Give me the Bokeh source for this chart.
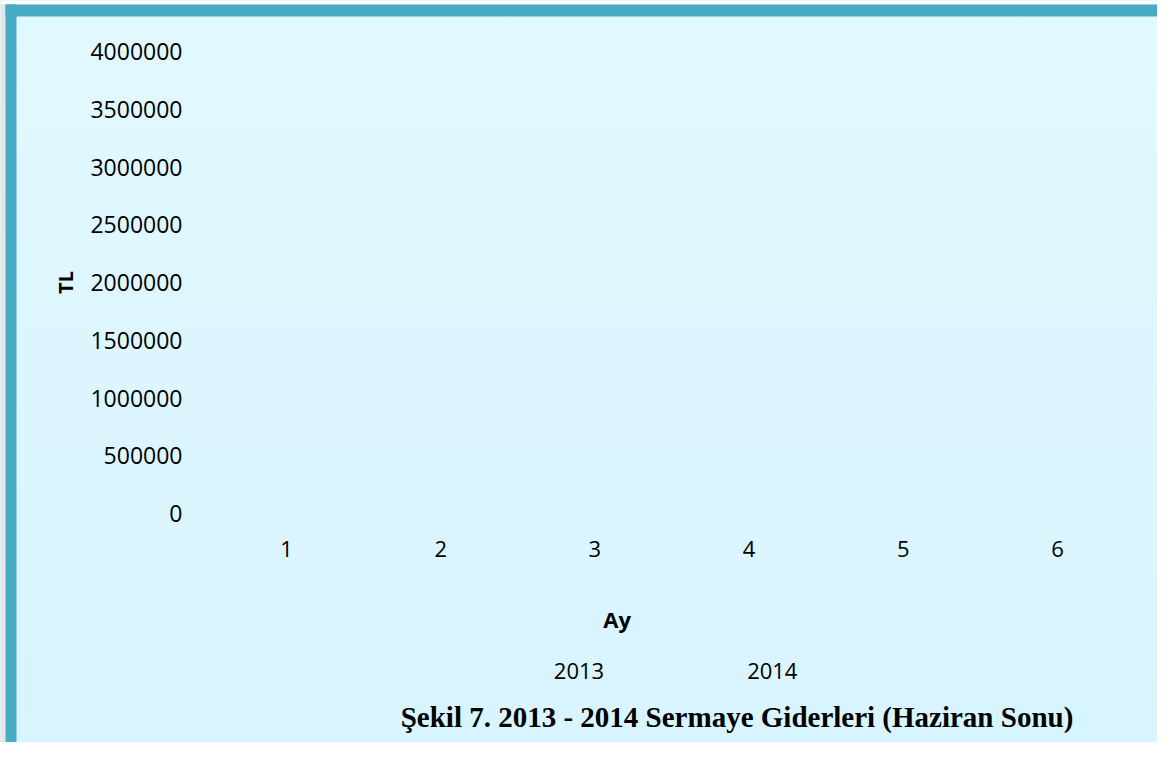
import math
from bokeh.plotting import figure
from bokeh.models import (ColumnDataSource, FixedTicker, NumeralTickFormatter,
                          Legend, LegendItem, Label, BoxAnnotation)
from bokeh.transform import dodge
from bokeh.embed import file_html
from bokeh.resources import INLINE

# ---- data (no bars are visible in the reference: all values read as 0) ----
months = [1, 2, 3, 4, 5, 6]
years = ["2013", "2014"]
values_2013 = [0, 0, 0, 0, 0, 0]
values_2014 = [0, 0, 0, 0, 0, 0]
y_ticks = [0, 500000, 1000000, 1500000, 2000000, 2500000, 3000000, 3500000, 4000000]

title_text = "Şekil 7. 2013 - 2014 Sermaye Giderleri (Haziran Sonu)"
x_label = "Ay"
y_label = "TL"

# ---- layout constants (pixels on the canvas) ----
W, H = 1157, 742
ZERO_Y, TOP_Y = 513, 51          # canvas y of value 0 and of the top tick
FIRST_X, LAST_X = 286, 1057      # canvas x of month 1 and month 6
AXIS_X = 209                     # canvas x of the value axis

TEAL = "#48ABC5"
SANS = "Open Sans"

ky = (ZERO_Y - TOP_Y) / (y_ticks[-1] - y_ticks[0])
kx = (LAST_X - FIRST_X) / (months[-1] - months[0])
x_start = months[0] - FIRST_X / kx
x_end = months[-1] + (W - LAST_X) / kx
y_start = y_ticks[0] - (H - ZERO_Y) / ky
y_end = y_ticks[-1] + TOP_Y / ky

src = ColumnDataSource(dict(month=months, y2013=values_2013, y2014=values_2014))

p = figure(width=W, height=H, output_backend="svg", toolbar_location=None, title=None,
           x_range=(x_start, x_end), y_range=(y_start, y_end),
           min_border=0, min_border_left=0, min_border_right=0,
           min_border_top=0, min_border_bottom=0)

p.background_fill_color = None
p.border_fill_color = None
p.styles = {"background": "linear-gradient(to bottom, #E2F8FF, #D8F4FE)"}
p.outline_line_color = None
p.grid.visible = False

r1 = p.vbar(x=dodge("month", -0.18), top="y2013", width=0.34, source=src,
            fill_color=None, line_color=None)
r2 = p.vbar(x=dodge("month", 0.18), top="y2014", width=0.34, source=src,
            fill_color=None, line_color=None)

# axes (placed at fixed positions inside the canvas)
for ax in (p.xaxis[0], p.yaxis[0]):
    ax.axis_line_color = None
    ax.major_tick_line_color = None
    ax.minor_tick_line_color = None
    ax.major_tick_out = 0
    ax.major_tick_in = 0
    ax.major_label_text_font = SANS
    ax.major_label_text_color = "#000000"

p.yaxis.fixed_location = x_start + AXIS_X / kx
p.yaxis.ticker = FixedTicker(ticks=y_ticks)
p.yaxis.formatter = NumeralTickFormatter(format="0")
p.yaxis.major_label_text_font_size = "23px"
p.yaxis.major_label_standoff = 27

p.xaxis.fixed_location = y_ticks[0]
p.xaxis.ticker = FixedTicker(ticks=months)
p.xaxis.major_label_text_font_size = "22px"
p.xaxis.major_label_standoff = 27

# axis titles
p.add_layout(Label(x=65, y=H - 282, x_units="screen", y_units="screen", text=y_label,
                   angle=math.pi / 2, text_font=SANS, text_font_style="bold",
                   text_font_size="20px", text_align="center", text_baseline="middle",
                   text_color="#000000"))
p.add_layout(Label(x=616.7, y=H - 618.5, x_units="screen", y_units="screen", text=x_label,
                   text_font=SANS, text_font_style="bold", text_font_size="22px",
                   text_align="center", text_baseline="alphabetic", text_color="#000000"))

# legend (no visible markers in the reference)
legend = Legend(items=[LegendItem(label=years[0], renderers=[r1]),
                       LegendItem(label=years[1], renderers=[r2])],
                orientation="horizontal", location=(552.8, H - 685),
                glyph_width=1, glyph_height=1, label_standoff=0, spacing=142,
                padding=0, margin=0, border_line_color=None, background_fill_alpha=0,
                label_text_font=SANS, label_text_font_size="22px", label_text_color="#000000")
p.add_layout(legend)

# caption
p.add_layout(Label(x=736.5, y=H - 716.5, x_units="screen", y_units="screen", text=title_text,
                   text_font="Liberation Serif", text_font_style="bold", text_font_size="29px",
                   text_align="center", text_baseline="alphabetic", text_color="#000000"))

# frame decoration: shadow strip, white strip, teal bands on left and top
p.add_layout(BoxAnnotation(left=0, right=5, bottom=0, top=H,
                           left_units="screen", right_units="screen",
                           top_units="screen", bottom_units="screen",
                           fill_color="#E6E6E6", fill_alpha=1, line_color=None))
p.add_layout(BoxAnnotation(left=0, right=W, bottom=H - 4, top=H,
                           left_units="screen", right_units="screen",
                           top_units="screen", bottom_units="screen",
                           fill_color="#FFFFFF", fill_alpha=1, line_color=None))
p.add_layout(BoxAnnotation(left=5, right=16, bottom=0, top=H - 4,
                           left_units="screen", right_units="screen",
                           top_units="screen", bottom_units="screen",
                           fill_color=TEAL, fill_alpha=1, line_color=None))
p.add_layout(BoxAnnotation(left=5, right=W, bottom=H - 16, top=H - 4,
                           left_units="screen", right_units="screen",
                           top_units="screen", bottom_units="screen",
                           fill_color=TEAL, fill_alpha=1, line_color=None))

open("out.html", "w").write(file_html(p, INLINE))
